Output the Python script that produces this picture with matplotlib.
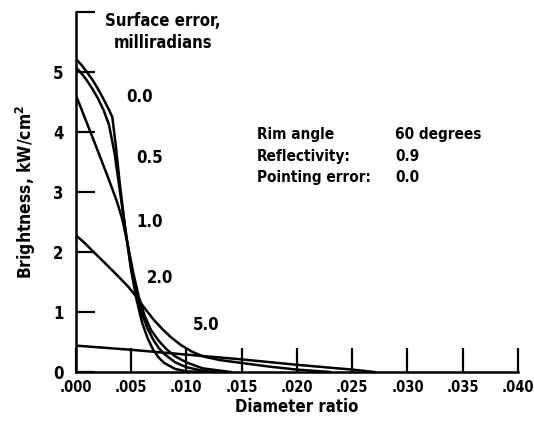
#!/usr/bin/env python3
"""
Brightness vs diameter ratio for several surface errors
"""

import matplotlib.pyplot as plt

plt.rcParams['font.family'] = ['DejaVu Sans']
plt.rcParams['font.stretch'] = 'condensed'
plt.rcParams['font.weight'] = 'bold'
plt.rcParams['axes.labelweight'] = 'bold'

# curve data (diameter ratio, brightness kW/cm^2)
x_00 = [0.0, 0.0005, 0.001, 0.0015, 0.002, 0.0025, 0.003, 0.0033, 0.0036, 0.004, 0.0045, 0.005,
        0.0055, 0.006, 0.0065, 0.007, 0.0075, 0.008, 0.009, 0.010, 0.012]
y_00 = [5.22, 5.12, 5.0, 4.87, 4.72, 4.55, 4.37, 4.25, 3.8, 3.1, 2.35, 1.7,
        1.2, 0.82, 0.56, 0.37, 0.24, 0.15, 0.05, 0.01, 0.0]

x_05 = [0.0, 0.0005, 0.001, 0.0015, 0.002, 0.0025, 0.003, 0.0035, 0.004, 0.0045, 0.005,
        0.0055, 0.006, 0.0065, 0.007, 0.0075, 0.008, 0.009, 0.010, 0.0115, 0.013]
y_05 = [5.08, 4.98, 4.86, 4.72, 4.56, 4.37, 4.12, 3.65, 3.0, 2.35, 1.75,
        1.3, 0.96, 0.72, 0.54, 0.4, 0.3, 0.16, 0.08, 0.02, 0.0]

x_10 = [0.0, 0.001, 0.002, 0.003, 0.0037, 0.0042, 0.0047, 0.0052, 0.0057, 0.0062, 0.0068,
        0.0075, 0.0082, 0.009, 0.010, 0.0115, 0.014]
y_10 = [4.62, 4.15, 3.68, 3.2, 2.85, 2.55, 2.12, 1.65, 1.25, 0.95, 0.7,
        0.52, 0.38, 0.26, 0.16, 0.06, 0.0]

x_20 = [0.0, 0.0008, 0.0015, 0.0025, 0.0037, 0.0047, 0.0055, 0.0062, 0.007, 0.0078, 0.0086,
        0.0095, 0.0105, 0.0115, 0.013, 0.015, 0.0175, 0.020, 0.023]
y_20 = [2.28, 2.15, 2.02, 1.84, 1.62, 1.43, 1.25, 1.07, 0.88, 0.72, 0.58,
        0.45, 0.34, 0.26, 0.2, 0.15, 0.09, 0.04, 0.0]

x_50 = [0.0, 0.005, 0.010, 0.015, 0.020, 0.025, 0.027]
y_50 = [0.44, 0.37, 0.29, 0.21, 0.12, 0.04, 0.0]

curve_labels = ["0.0", "0.5", "1.0", "2.0", "5.0"]
label_pos = [(0.0058, 4.59), (0.0067, 3.57), (0.0067, 2.5), (0.0076, 1.57), (0.0118, 0.78)]

x_ticks = [0.000, 0.005, 0.010, 0.015, 0.020, 0.025, 0.030, 0.035, 0.040]
x_tick_labels = [".000", ".005", ".010", ".015", ".020", ".025", ".030", ".035", ".040"]
y_ticks = [0, 1, 2, 3, 4, 5, 6]

fig = plt.figure(figsize=(5.34, 4.22), dpi=100)
ax = fig.add_axes([0.142, 0.1185, 0.828, 0.853])

lw = 1.8
for xs, ys in [(x_00, y_00), (x_05, y_05), (x_10, y_10), (x_20, y_20), (x_50, y_50)]:
    ax.plot(xs, ys, color='black', lw=lw, solid_joinstyle='round')

for lab, (lx, ly) in zip(curve_labels, label_pos):
    ax.text(lx, ly, lab, ha='center', va='center', fontsize=12)

ax.set_xlim(0, 0.040)
ax.set_ylim(0, 6)
ax.set_xticks(x_ticks)
ax.set_xticklabels(x_tick_labels)
ax.set_yticks(y_ticks)
ax.set_yticklabels(["0", "1", "2", "3", "4", "5", ""])

for s in ['top', 'right']:
    ax.spines[s].set_visible(False)
for s in ['left', 'bottom']:
    ax.spines[s].set_linewidth(1.8)

ax.tick_params(axis='x', direction='in', length=17, width=1.6, labelsize=10.5, pad=6)
ax.tick_params(axis='y', direction='in', length=14, width=1.6, labelsize=12, pad=9)

ax.set_xlabel("Diameter ratio", fontsize=12, labelpad=2)
ax.set_ylabel("Brightness, kW/cm$^\\mathbf{2}$", fontsize=12.5, labelpad=11)

# legend title at top
ax.text(0.0079, 6.0, "Surface error,\nmilliradians", ha='center', va='top',
        fontsize=12, linespacing=1.3)

# conditions block
rows = [("Rim angle", "60 degrees"), ("Reflectivity:", "0.9"), ("Pointing error:", "0.0")]
row_y = [3.96, 3.6, 3.24]
for (a, b), yy in zip(rows, row_y):
    ax.text(0.0164, yy, a, ha='left', va='center', fontsize=11)
    ax.text(0.0289, yy, b, ha='left', va='center', fontsize=11)

plt.savefig('out.png', dpi=100)
